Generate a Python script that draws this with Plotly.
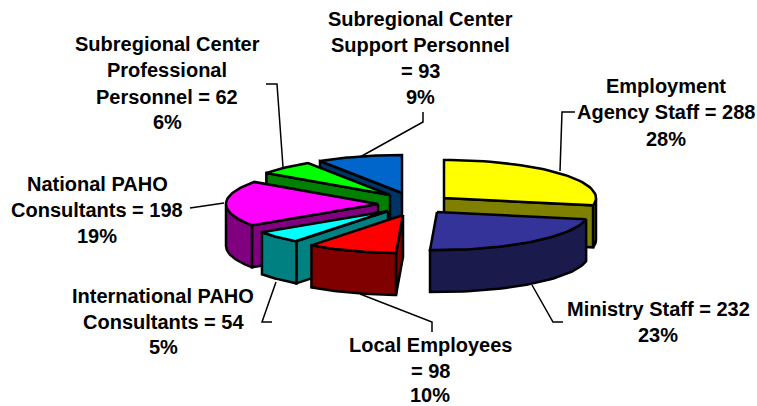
import math
import plotly.graph_objects as go

# data
categories = ["Employment Agency Staff", "Ministry Staff", "Local Employees",
              "International PAHO Consultants", "National PAHO Consultants",
              "Subregional Center Professional Personnel",
              "Subregional Center Support Personnel"]
values = [288, 232, 98, 54, 198, 62, 93]
label_lines = [
    ["Employment", "Agency Staff = 288", "28%"],
    ["Ministry Staff = 232", "23%"],
    ["Local Employees", "= 98", "10%"],
    ["International PAHO", "Consultants = 54", "5%"],
    ["National PAHO", "Consultants = 198", "19%"],
    ["Subregional Center", "Professional", "Personnel = 62", "6%"],
    ["Subregional Center", "Support Personnel", "= 93", "9%"],
]

# styling / layout of the exploded 3D pie
top_colors = ["#FFFF00", "#333399", "#FF0000", "#00FFFF", "#FF00FF", "#00FF00", "#0066CC"]
side_colors = ["#808000", "#1A1A4D", "#800000", "#008080", "#800080", "#008000", "#003366"]
apex = [(444, 198), (437, 212), (403, 215), (388, 211), (378, 204), (390, 195), (402, 193)]
RX, RY, DEPTH = 152, 38, 42
label_pos = [(666, [86, 112, 139]), (658, [309, 335]), (430, [345, 371, 395]),
             (163, [296, 322, 347]), (97, [184, 210, 236]),
             (167, [44, 70, 97, 122]), (420, [19, 45, 71, 97])]
leaders = [[(575, 112), (562, 112), (560, 171)],
           [(563, 322), (553, 322), (532, 285)],
           [(432, 332), (432, 322), (360, 294)],
           [(272, 322), (262, 322), (276, 282)],
           [(190, 208), (224, 203)],
           [(266, 84), (277, 84), (283, 167)],
           [(423, 112), (423, 122), (360, 157)]]
draw_order = [6, 5, 4, 3, 2, 0, 1]

total = sum(values)
angles = [0]
for v in values:
    angles.append(angles[-1] + 360 * v / total)


def pt(i, deg, dz=0):
    r = math.radians(deg)
    return apex[i][0] + RX * math.sin(r), apex[i][1] - RY * math.cos(r) + dz


def arc(a0, a1, n=40):
    return [a0 + (a1 - a0) * k / n for k in range(n + 1)]


fig = go.Figure()


def poly(points, color):
    fig.add_trace(go.Scatter(
        x=[p[0] for p in points] + [points[0][0]],
        y=[p[1] for p in points] + [points[0][1]],
        mode="lines", fill="toself", fillcolor=color,
        line=dict(color="black", width=2.5), hoverinfo="skip", showlegend=False))


for i in draw_order:
    a0, a1 = angles[i], angles[i + 1]
    ax, ay = apex[i]
    side = side_colors[i]
    # end radial face
    if math.cos(math.radians(a1 + 90)) < -1e-6:
        p = pt(i, a1)
        poly([(ax, ay), p, (p[0], p[1] + DEPTH), (ax, ay + DEPTH)], side)
    # start radial face
    if math.cos(math.radians(a0 - 90)) < -1e-6:
        p = pt(i, a0)
        poly([(ax, ay), p, (p[0], p[1] + DEPTH), (ax, ay + DEPTH)], side)
    # outer wall
    lo, hi = max(a0, 90), min(a1, 270)
    if hi > lo:
        degs = arc(lo, hi)
        poly([pt(i, d) for d in degs] + [pt(i, d, DEPTH) for d in reversed(degs)], side)
    # top face
    poly([(ax, ay)] + [pt(i, d) for d in arc(a0, a1)], top_colors[i])

for seg in leaders:
    fig.add_trace(go.Scatter(x=[p[0] for p in seg], y=[p[1] for p in seg], mode="lines",
                             line=dict(color="black", width=1.5),
                             hoverinfo="skip", showlegend=False))

for lines, (cx, ys) in zip(label_lines, label_pos):
    for text, y in zip(lines, ys):
        fig.add_annotation(x=cx, y=y, text=f"<b>{text}</b>", showarrow=False,
                           xanchor="center", yanchor="middle", borderpad=0,
                           font=dict(family="Liberation Sans", size=20, color="black"))

fig.update_layout(
    width=757, height=406, margin=dict(l=0, r=0, t=0, b=0),
    paper_bgcolor="white", plot_bgcolor="white", showlegend=False,
    xaxis=dict(range=[0, 757], visible=False, fixedrange=True),
    yaxis=dict(range=[406, 0], visible=False, fixedrange=True),
)
fig.write_html("out.html", config={"displayModeBar": False},
               post_script="document.body.style.margin='0';document.documentElement.style.overflow='hidden';")
